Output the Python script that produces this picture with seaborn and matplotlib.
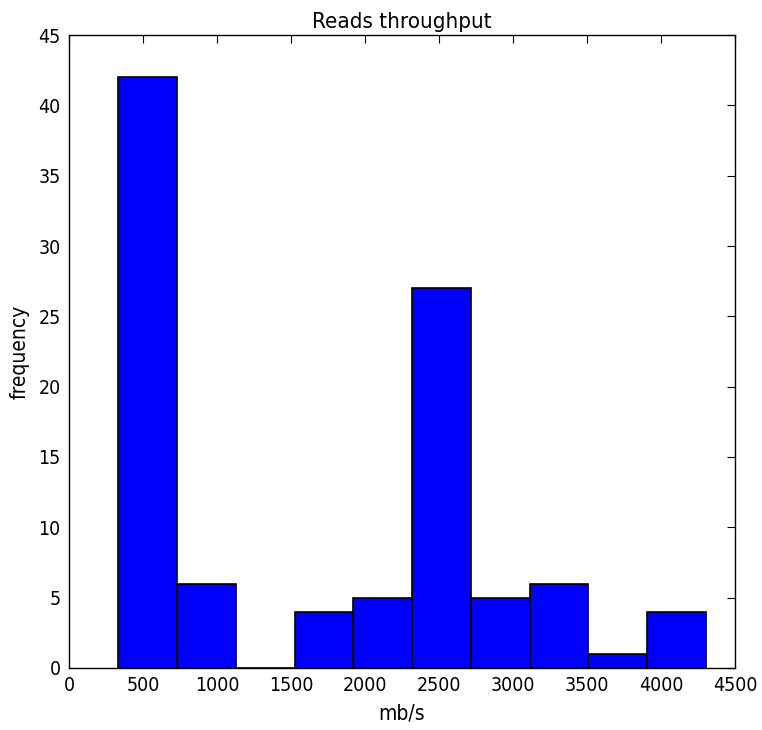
import numpy as np
import pandas as pd
import seaborn as sns
from matplotlib import pyplot as plt

# histogram counts
bin_lo = 333.0
bin_hi = 4304.0
counts = [42, 6, 0, 4, 5, 27, 5, 6, 1, 4]

edges = np.linspace(bin_lo, bin_hi, len(counts) + 1)
centers = (edges[:-1] + edges[1:]) / 2
df = pd.DataFrame({'mbps': centers, 'n': counts})

sns.set_style('white')
plt.rcParams['font.family'] = ['DejaVu Sans']
plt.rcParams['font.stretch'] = 'condensed'
plt.rcParams['text.color'] = 'black'
plt.rcParams['axes.labelcolor'] = 'black'

fig = plt.figure(figsize=(7.62, 7.30), dpi=100)
ax = fig.add_axes([0.0905, 0.085, 0.874, 0.867])
sns.histplot(data=df, x='mbps', weights='n', bins=len(counts),
             binrange=(bin_lo, bin_hi), ax=ax,
             color='#0000ff', edgecolor='black', linewidth=1.2, alpha=1)

ax.set_xlim(0, 4500)
ax.set_ylim(0, 45)
ax.set_xticks(np.arange(0, 4501, 500))
ax.set_yticks(np.arange(0, 46, 5))
ax.tick_params(direction='in', top=True, right=True, length=6, width=0.8,
               labelsize=14, colors='black', pad=6)
for s in ax.spines.values():
    s.set_color('black')
    s.set_linewidth(1.0)
ax.set_title('Reads throughput', fontsize=16, pad=5)
ax.set_xlabel('mb/s', fontsize=15, labelpad=6)
ax.set_ylabel('frequency', fontsize=15, labelpad=6)

fig.savefig('out.png', dpi=100)
